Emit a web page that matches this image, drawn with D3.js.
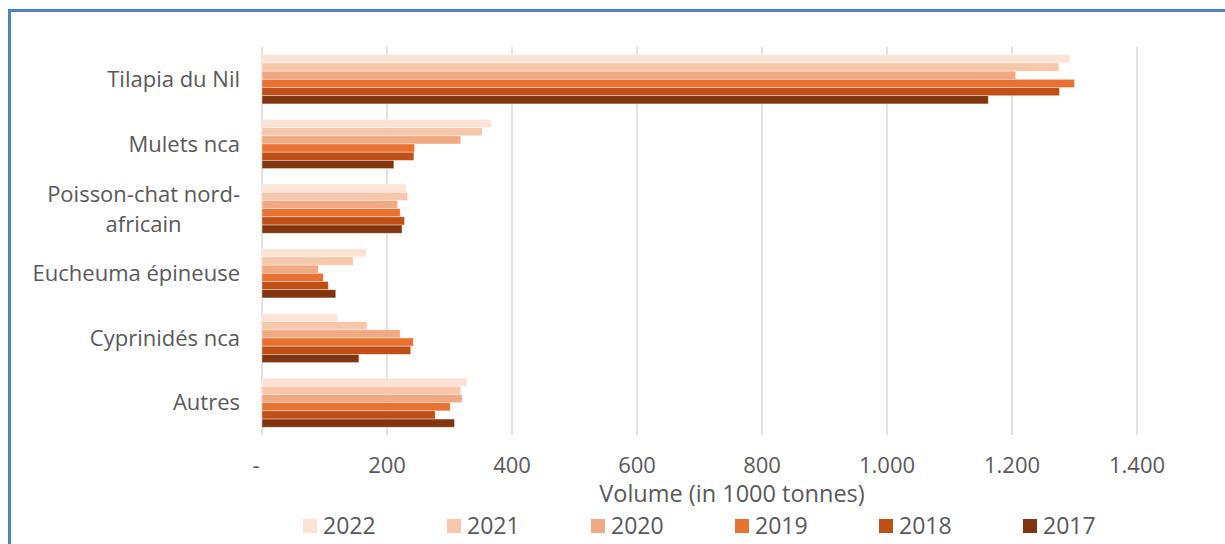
<!DOCTYPE html>
<html>
<head>
	<meta charset="utf-8">
	<title>Volume par espèce</title>
	<script src="https://cdn.jsdelivr.net/npm/d3@7"></script>
	<style>
	body {
		margin: 0;
		background: #ffffff;
	}
	text {
		font-family: "Open Sans", "Noto Sans", sans-serif;
		fill: #595959;
	}
	line.grid {
		stroke: #d9d9d9;
		stroke-width: 1.5px;
	}
	</style>
</head>
<body>
	<svg id="chart" width="1225" height="544"></svg>
	<script>
	var categories = ["Tilapia du Nil", "Mulets nca", "Poisson-chat nord-africain", "Eucheuma épineuse", "Cyprinidés nca", "Autres"];
	var years = ["2022", "2021", "2020", "2019", "2018", "2017"];
	// one array per year, same order as categories
	var v2022 = [1293, 367, 231, 167, 121, 328];
	var v2021 = [1275, 352, 233, 146, 168, 318];
	var v2020 = [1206, 318, 217, 90, 221, 320];
	var v2019 = [1300, 244, 221, 98, 242, 301];
	var v2018 = [1276, 243, 228, 106, 238, 277];
	var v2017 = [1162, 211, 224, 118, 155, 308];
	var tickValues = [0, 200, 400, 600, 800, 1000, 1200, 1400];
	var colors = ["#fbe3d6", "#f7c7ac", "#f1a983", "#e97132", "#c04f15", "#80350e"];

	var series = [v2022, v2021, v2020, v2019, v2018, v2017];

	var svg = d3.select("#chart");

	// blue frame (top and left only)
	svg.append("line").attr("x1", 8).attr("x2", 1225).attr("y1", 10.5).attr("y2", 10.5)
		.style("stroke", "#4f81bd").style("stroke-width", 3);
	svg.append("line").attr("x1", 9.5).attr("x2", 9.5).attr("y1", 9).attr("y2", 544)
		.style("stroke", "#4f81bd").style("stroke-width", 3);

	var xScale = d3.scaleLinear().domain([0, 1400]).range([262, 1137]);
	var yScale = d3.scaleBand().domain(categories).range([47, 435])
		.paddingInner(0.24).paddingOuter(0.12);
	var yInner = d3.scaleBand().domain(years).range([0, yScale.bandwidth()]);
	var color = d3.scaleOrdinal().domain(years).range(colors);

	var fr = d3.formatLocale({decimal: ",", thousands: ".", grouping: [3], currency: ["", ""]});
	var fmt = function (d) { return d === 0 ? "-" : fr.format(",")(d); };

	// gridlines
	svg.append("g").selectAll("line.grid")
		.data(tickValues)
		.enter()
		.append("line")
		.attr("class", "grid")
		.attr("x1", function (d) { return xScale(d); })
		.attr("x2", function (d) { return xScale(d); })
		.attr("y1", 47)
		.attr("y2", 435);

	// bars
	var groups = svg.append("g").selectAll("g.cat")
		.data(categories)
		.enter()
		.append("g")
		.attr("class", "cat")
		.attr("transform", function (d) { return "translate(0," + yScale(d) + ")"; });

	groups.selectAll("rect")
		.data(function (d, i) {
			return years.map(function (y, j) { return {year: y, value: series[j][i]}; });
		})
		.enter()
		.append("rect")
		.attr("x", xScale(0))
		.attr("y", function (d) { return yInner(d.year); })
		.attr("width", function (d) { return xScale(d.value) - xScale(0); })
		.attr("height", yInner.bandwidth())
		.style("fill", function (d) { return color(d.year); })
		.style("stroke", "#ffffff")
		.style("stroke-opacity", 0.5)
		.style("stroke-width", 0.75);

	// category labels, wrapped ones centred under their first line
	var wrap = {"Poisson-chat nord-africain": ["Poisson-chat nord-", "africain"]};
	categories.forEach(function (c) {
		var cy = yScale(c) + yScale.bandwidth() / 2;
		var lines = wrap[c] || [c];
		var t = svg.append("text")
			.style("font-size", "22px");
		if (lines.length === 1) {
			t.attr("x", 240).attr("y", cy + 7.5).attr("text-anchor", "end").text(c);
		} else {
			t.attr("text-anchor", "middle");
			t.append("tspan").attr("x", 0).attr("y", cy - 7).text(lines[0]);
			t.append("tspan").attr("x", 0).attr("y", cy + 23).text(lines[1]);
			var w = t.select("tspan").node().getComputedTextLength();
			t.selectAll("tspan").attr("x", 240 - w / 2);
		}
	});

	// x tick labels
	svg.append("g").selectAll("text.tick")
		.data(tickValues)
		.enter()
		.append("text")
		.attr("class", "tick")
		.attr("x", function (d) { return d === 0 ? 256 : xScale(d); })
		.attr("y", 473)
		.attr("text-anchor", "middle")
		.style("font-size", "22px")
		.text(fmt);

	svg.append("text")
		.attr("x", 732)
		.attr("y", 502)
		.attr("text-anchor", "middle")
		.style("font-size", "23.5px")
		.text("Volume (in 1000 tonnes)");

	// legend
	var legend = svg.append("g").selectAll("g.leg")
		.data(years)
		.enter()
		.append("g")
		.attr("class", "leg")
		.attr("transform", function (d, i) { return "translate(" + (303 + i * 144) + ",519)"; });

	legend.append("rect")
		.attr("width", 14)
		.attr("height", 14)
		.style("fill", function (d) { return color(d); });

	legend.append("text")
		.attr("x", 20)
		.attr("y", 14.5)
		.style("font-size", "23px")
		.text(function (d) { return d; });
	</script>
</body>
</html>
